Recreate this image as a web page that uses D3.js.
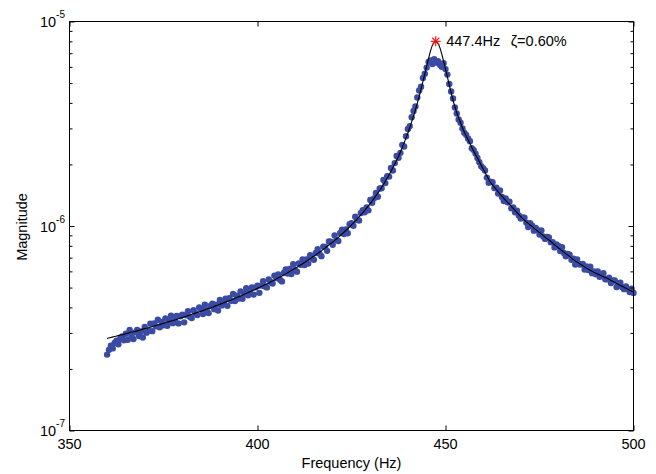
<!DOCTYPE html>
<html><head><meta charset="utf-8">
<script src="https://cdn.jsdelivr.net/npm/d3@7"></script>
<style>
body{margin:0;background:#fff}
svg{display:block}
text{font-family:"Liberation Sans",Arial,Helvetica,sans-serif;fill:#000}
</style>
</head><body>
<svg id="c" width="656" height="474"></svg>
<script>
// measured FRF samples (Hz, magnitude)
const measuredHz = [
360,360.5,361,361.5,362,362.5,363,363.5,364,364.5,365,365.5,366,366.5,367,367.5,368,368.5,369,369.5,
370,370.5,371,371.5,372,372.5,373,373.5,374,374.5,375,375.5,376,376.5,377,377.5,378,378.5,379,379.5,
380,380.5,381,381.5,382,382.5,383,383.5,384,384.5,385,385.5,386,386.5,387,387.5,388,388.5,389,389.5,
390,390.5,391,391.5,392,392.5,393,393.5,394,394.5,395,395.5,396,396.5,397,397.5,398,398.5,399,399.5,
400,400.5,401,401.5,402,402.5,403,403.5,404,404.5,405,405.5,406,406.5,407,407.5,408,408.5,409,409.5,
410,410.5,411,411.5,412,412.5,413,413.5,414,414.5,415,415.5,416,416.5,417,417.5,418,418.5,419,419.5,
420,420.5,421,421.5,422,422.5,423,423.5,424,424.5,425,425.5,426,426.5,427,427.5,428,428.5,429,429.5,
430,430.5,431,431.5,432,432.5,433,433.5,434,434.5,435,435.5,436,436.5,437,437.5,438,438.5,439,439.5,
440,440.5,441,441.5,442,442.5,443,443.5,444,444.5,445,445.5,446,446.5,447,447.5,448,448.5,449,449.5,
450,450.5,451,451.5,452,452.5,453,453.5,454,454.5,455,455.5,456,456.5,457,457.5,458,458.5,459,459.5,
460,460.5,461,461.5,462,462.5,463,463.5,464,464.5,465,465.5,466,466.5,467,467.5,468,468.5,469,469.5,
470,470.5,471,471.5,472,472.5,473,473.5,474,474.5,475,475.5,476,476.5,477,477.5,478,478.5,479,479.5,
480,480.5,481,481.5,482,482.5,483,483.5,484,484.5,485,485.5,486,486.5,487,487.5,488,488.5,489,489.5,
490,490.5,491,491.5,492,492.5,493,493.5,494,494.5,495,495.5,496,496.5,497,497.5,498,498.5,499,499.5,
500];
const measuredMag = [
2.35e-7,2.48e-7,2.60e-7,2.52e-7,2.68e-7,2.75e-7,2.64e-7,2.80e-7,2.88e-7,2.76e-7,
2.97e-7,2.78e-7,3.10e-7,2.90e-7,2.80e-7,3.02e-7,3.10e-7,2.90e-7,3.05e-7,2.85e-7,
3.21e-7,3.01e-7,3.08e-7,3.33e-7,3.06e-7,3.34e-7,3.23e-7,3.48e-7,3.20e-7,3.39e-7,
3.27e-7,3.53e-7,3.25e-7,3.44e-7,3.64e-7,3.35e-7,3.44e-7,3.63e-7,3.34e-7,3.62e-7,
3.68e-7,3.38e-7,3.66e-7,3.83e-7,3.60e-7,3.55e-7,3.87e-7,3.75e-7,3.67e-7,4.00e-7,
3.94e-7,3.71e-7,4.12e-7,3.88e-7,3.75e-7,4.06e-7,4.17e-7,3.92e-7,4.12e-7,3.86e-7,
4.35e-7,4.09e-7,4.21e-7,4.41e-7,4.07e-7,4.44e-7,4.31e-7,4.65e-7,4.30e-7,4.56e-7,
4.42e-7,4.78e-7,4.41e-7,4.68e-7,4.96e-7,4.58e-7,4.72e-7,5.01e-7,4.62e-7,5.01e-7,
5.11e-7,4.71e-7,5.11e-7,5.37e-7,5.06e-7,5.01e-7,5.48e-7,5.33e-7,5.23e-7,5.72e-7,
5.57e-7,5.79e-7,5.46e-7,5.36e-7,5.89e-7,6.13e-7,5.85e-7,6.16e-7,5.82e-7,6.50e-7,
6.09e-7,5.98e-7,6.56e-7,6.46e-7,6.87e-7,6.44e-7,6.86e-7,6.55e-7,7.20e-7,6.95e-7,
6.84e-7,7.38e-7,7.71e-7,7.31e-7,7.12e-7,7.93e-7,7.90e-7,7.56e-7,8.41e-7,8.38e-7,
8.09e-7,9.00e-7,8.55e-7,8.45e-7,9.24e-7,9.60e-7,9.13e-7,9.61e-7,9.22e-7,1.021e-6,
1.032e-6,1.003e-6,1.110e-6,1.071e-6,1.063e-6,1.157e-6,1.196e-6,1.168e-6,1.234e-6,1.193e-6,
1.341e-6,1.300e-6,1.365e-6,1.449e-6,1.391e-6,1.526e-6,1.529e-6,1.679e-6,1.621e-6,1.751e-6,
1.744e-6,1.924e-6,1.867e-6,2.030e-6,2.202e-6,2.154e-6,2.279e-6,2.493e-6,2.447e-6,2.749e-6,
2.98e-6,3.08e-6,3.40e-6,3.65e-6,3.84e-6,4.25e-6,4.60e-6,4.80e-6,5.30e-6,5.55e-6,
5.95e-6,6.35e-6,6.45e-6,6.20e-6,6.55e-6,6.30e-6,6.40e-6,6.15e-6,6.00e-6,6.25e-6,
5.85e-6,5.50e-6,4.95e-6,4.55e-6,4.20e-6,3.80e-6,3.55e-6,3.32e-6,3.20e-6,3.00e-6,
2.86e-6,2.79e-6,2.68e-6,2.60e-6,2.40e-6,2.35e-6,2.26e-6,2.15e-6,2.05e-6,1.96e-6,
1.919e-6,1.867e-6,1.725e-6,1.627e-6,1.646e-6,1.638e-6,1.535e-6,1.540e-6,1.441e-6,1.492e-6,
1.386e-6,1.326e-6,1.362e-6,1.305e-6,1.313e-6,1.222e-6,1.232e-6,1.168e-6,1.188e-6,1.126e-6,
1.088e-6,1.100e-6,1.099e-6,1.039e-6,9.89e-7,1.033e-6,1.005e-6,9.49e-7,9.79e-7,9.53e-7,
9.09e-7,9.50e-7,8.89e-7,8.65e-7,8.85e-7,8.80e-7,8.32e-7,8.33e-7,7.86e-7,8.12e-7,
7.98e-7,7.54e-7,7.87e-7,7.38e-7,7.11e-7,7.29e-7,7.24e-7,6.84e-7,6.92e-7,6.48e-7,
6.86e-7,6.50e-7,6.48e-7,6.52e-7,6.12e-7,6.35e-7,6.09e-7,6.32e-7,5.88e-7,5.99e-7,
5.81e-7,5.99e-7,5.64e-7,5.76e-7,5.88e-7,5.49e-7,5.49e-7,5.59e-7,5.26e-7,5.41e-7,
5.41e-7,5.03e-7,5.23e-7,5.28e-7,5.02e-7,4.91e-7,5.06e-7,4.91e-7,4.75e-7,4.94e-7,
4.70e-7];

// fitted SDOF curve (Hz, magnitude)
const fitHz = [
360,361,362,363,364,365,366,367,368,369,370,371,372,373,374,375,376,377,378,379,
380,381,382,383,384,385,386,387,388,389,390,391,392,393,394,395,396,397,398,399,
400,401,402,403,404,405,406,407,408,409,410,411,412,413,414,415,416,417,418,419,
420,421,422,423,424,425,426,427,428,429,430,431,432,433,434,435,436,437,438,439,
440,441,442,443,444,444.5,445,445.5,446,446.5,447,447.4,448,448.5,449,449.5,450,450.5,
451,452,453,454,455,456,457,458,459,460,461,462,463,464,465,466,467,468,469,470,
471,472,473,474,475,476,477,478,479,480,481,482,483,484,485,486,487,488,489,490,
491,492,493,494,495,496,497,498,499,500];
const fitMag = [
2.82e-7,2.85e-7,2.88e-7,2.91e-7,2.94e-7,2.97e-7,3.01e-7,3.04e-7,3.07e-7,3.11e-7,
3.15e-7,3.18e-7,3.22e-7,3.26e-7,3.30e-7,3.34e-7,3.39e-7,3.43e-7,3.47e-7,3.52e-7,
3.57e-7,3.62e-7,3.67e-7,3.72e-7,3.78e-7,3.83e-7,3.89e-7,3.95e-7,4.01e-7,4.08e-7,
4.14e-7,4.21e-7,4.28e-7,4.35e-7,4.43e-7,4.51e-7,4.59e-7,4.68e-7,4.77e-7,4.86e-7,
4.96e-7,5.06e-7,5.16e-7,5.27e-7,5.39e-7,5.51e-7,5.63e-7,5.77e-7,5.91e-7,6.06e-7,
6.21e-7,6.37e-7,6.54e-7,6.73e-7,6.92e-7,7.13e-7,7.34e-7,7.57e-7,7.82e-7,8.09e-7,
8.34e-7,8.64e-7,8.97e-7,9.32e-7,9.70e-7,1.012e-6,1.057e-6,1.107e-6,1.161e-6,1.222e-6,
1.289e-6,1.365e-6,1.449e-6,1.544e-6,1.654e-6,1.780e-6,1.925e-6,2.097e-6,2.302e-6,2.549e-6,
2.851e-6,3.231e-6,3.70e-6,4.30e-6,5.08e-6,5.55e-6,6.06e-6,6.60e-6,7.16e-6,7.64e-6,7.90e-6,8.00e-6,7.80e-6,7.45e-6,6.94e-6,6.39e-6,5.85e-6,5.36e-6,
4.90e-6,4.12e-6,3.58e-6,3.20e-6,2.88e-6,2.64e-6,2.42e-6,2.23e-6,2.06e-6,1.90e-6,
1.76e-6,1.63e-6,1.55e-6,1.47e-6,1.40e-6,1.335e-6,1.275e-6,1.22e-6,1.165e-6,1.11e-6,
1.067e-6,1.030e-6,9.95e-7,9.60e-7,9.28e-7,8.98e-7,8.68e-7,8.40e-7,8.10e-7,7.82e-7,
7.57e-7,7.33e-7,7.10e-7,6.85e-7,6.66e-7,6.48e-7,6.31e-7,6.15e-7,6.00e-7,5.87e-7,
5.76e-7,5.65e-7,5.55e-7,5.42e-7,5.30e-7,5.18e-7,5.07e-7,4.96e-7,4.85e-7,4.75e-7];

const peakHz = 447.4;
const peakMag = 8.0e-6;
const peakLabel = "447.4Hz";
const dampingLabel = "ζ=0.60%";
const xTicks = [350, 400, 450, 500];
const yMajor = [1e-7, 1e-6, 1e-5];
const yExponent = ["-7", "-6", "-5"];
const xTitle = "Frequency (Hz)";
const yTitle = "Magnitude";

const svg = d3.select("#c");
const x = d3.scaleLinear().domain([350, 500]).range([69.5, 633.5]);
const y = d3.scaleLog().domain([1e-7, 1e-5]).range([430.5, 21.5]);
const fs = 14.5;

// measured points
svg.append("g").selectAll("circle")
  .data(measuredHz.map((f, i) => [f, measuredMag[i]]))
  .join("circle")
  .attr("cx", d => x(d[0])).attr("cy", d => y(d[1]))
  .attr("r", 3.2).attr("fill", "#3a4ba3");

// fitted curve
const line = d3.line().x(d => x(d[0])).y(d => y(d[1])).curve(d3.curveMonotoneX);
svg.append("path")
  .datum(fitHz.map((f, i) => [f, fitMag[i]]))
  .attr("d", line).attr("fill", "none").attr("stroke", "#000").attr("stroke-width", 1.1);

// axes: ticks inward
const minor = y.ticks().filter(v => !yMajor.some(m => Math.abs(v / m - 1) < 1e-6));
function noDomain(g) { g.select(".domain").remove(); g.selectAll("line").attr("stroke", "#000"); }
svg.append("g").attr("transform", "translate(0,430.5)")
  .call(d3.axisBottom(x).tickValues(xTicks).tickSize(-5).tickFormat(""))
  .call(noDomain);
svg.append("g").attr("transform", "translate(0,21.5)")
  .call(d3.axisTop(x).tickValues(xTicks).tickSize(-5).tickFormat(""))
  .call(noDomain);
svg.append("g").attr("transform", "translate(69.5,0)")
  .call(d3.axisLeft(y).tickValues(yMajor).tickSize(-5).tickFormat(""))
  .call(noDomain);
svg.append("g").attr("transform", "translate(69.5,0)")
  .call(d3.axisLeft(y).tickValues(minor).tickSize(-3).tickFormat(""))
  .call(noDomain);
svg.append("g").attr("transform", "translate(633.5,0)")
  .call(d3.axisRight(y).tickValues(yMajor).tickSize(-5).tickFormat(""))
  .call(noDomain);
svg.append("g").attr("transform", "translate(633.5,0)")
  .call(d3.axisRight(y).tickValues(minor).tickSize(-3).tickFormat(""))
  .call(noDomain);
svg.selectAll("g.tick text").remove();

// box
svg.append("rect").attr("x", 69.5).attr("y", 21.5).attr("width", 564).attr("height", 409)
  .attr("fill", "none").attr("stroke", "#000").attr("stroke-width", 1);

// x tick labels
svg.append("g").selectAll("text").data(xTicks).join("text")
  .attr("x", d => x(d)).attr("y", 449).attr("text-anchor", "middle")
  .attr("font-size", fs).text(d => d);

// y tick labels 10^n
const yl = svg.append("g").selectAll("text").data(yMajor).join("text")
  .attr("x", 65).attr("y", d => y(d) + 5.5).attr("text-anchor", "end").attr("font-size", fs);
yl.append("tspan").text("10");
yl.append("tspan").attr("dy", -9).attr("font-size", 10).text((d, i) => yExponent[i]);

// titles
svg.append("text").attr("x", 351.5).attr("y", 468).attr("text-anchor", "middle")
  .attr("font-size", fs).text(xTitle);
svg.append("text").attr("transform", "translate(27,227) rotate(-90)")
  .attr("text-anchor", "middle").attr("font-size", fs).text(yTitle);

// peak marker (asterisk)
const px = x(peakHz), py = y(peakMag);
const star = svg.append("g").attr("stroke", "#ff0000").attr("stroke-width", 1.1);
[[-5,0,5,0],[0,-5,0,5],[-3.6,-3.6,3.6,3.6],[-3.6,3.6,3.6,-3.6]].forEach(s =>
  star.append("line").attr("x1", px + s[0]).attr("y1", py + s[1]).attr("x2", px + s[2]).attr("y2", py + s[3]));

svg.append("text").attr("x", px + 10.5).attr("y", py + 5).attr("font-size", fs).text(peakLabel);
svg.append("text").attr("x", px + 75).attr("y", py + 5).attr("font-size", fs).text(dampingLabel);
</script>
</body></html>
